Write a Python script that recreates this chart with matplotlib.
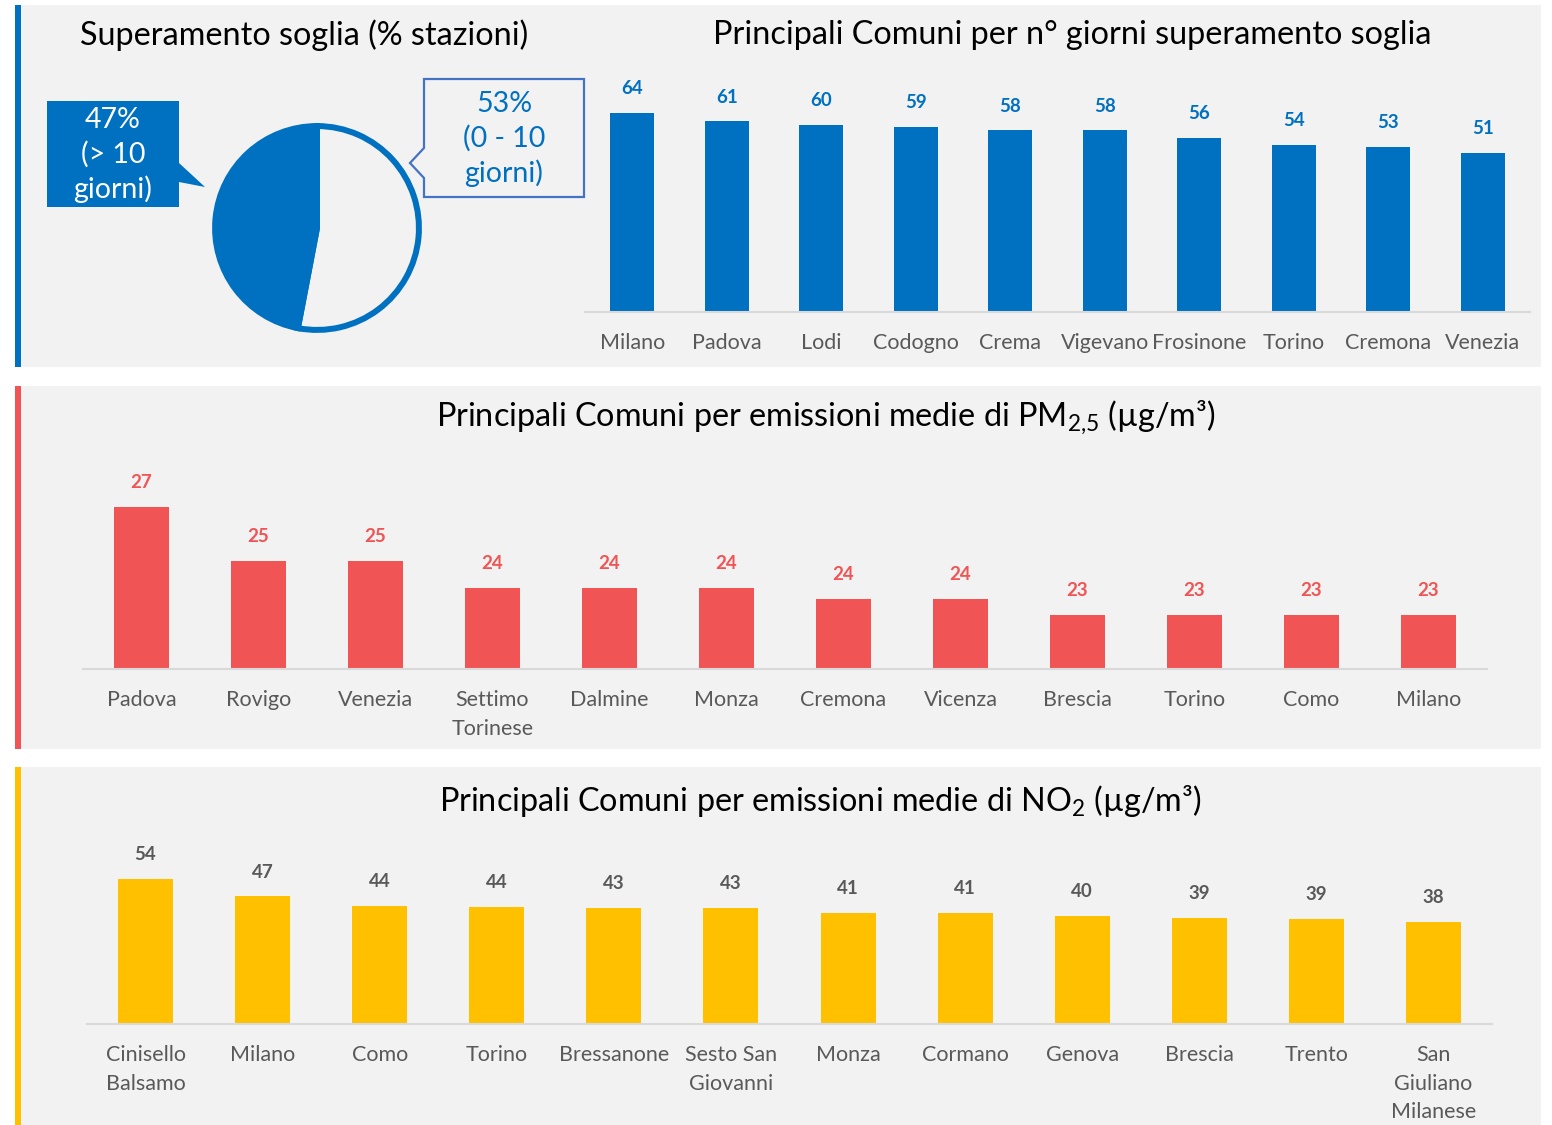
import matplotlib.pyplot as plt
from matplotlib.patches import Rectangle, Polygon

plt.rcParams['font.family'] = ['Lato', 'DejaVu Sans']
plt.rcParams['mathtext.fontset'] = 'custom'
plt.rcParams['mathtext.rm'] = 'Lato'
plt.rcParams['mathtext.it'] = 'Lato:italic'

# superamento soglia (% stazioni)
quota_labels = ["53%\n(0 - 10\ngiorni)", "47%\n(> 10\ngiorni)"]
quota_val = [53, 47]

# n° giorni superamento soglia
giorni_comuni = ["Milano", "Padova", "Lodi", "Codogno", "Crema", "Vigevano",
                 "Frosinone", "Torino", "Cremona", "Venezia"]
giorni_val = [64, 61.3, 60.1, 59.4, 58.4, 58.4, 55.9, 53.7, 53.1, 51.1]

# PM2,5
pm25_comuni = ["Padova", "Rovigo", "Venezia", "Settimo\nTorinese", "Dalmine", "Monza",
               "Cremona", "Vicenza", "Brescia", "Torino", "Como", "Milano"]
pm25_val = [27, 25, 25, 24, 24, 24, 23.6, 23.6, 23, 23, 23, 23]

# NO2
no2_comuni = ["Cinisello\nBalsamo", "Milano", "Como", "Torino", "Bressanone", "Sesto San\nGiovanni",
              "Monza", "Cormano", "Genova", "Brescia", "Trento", "San\nGiuliano\nMilanese"]
no2_val = [54, 47.4, 44, 43.6, 43.1, 43.1, 41.3, 41.3, 40.1, 39.4, 39, 38]

BLUE = '#0070C0'
RED = '#F05454'
YELLOW = '#FFC000'
BG = '#F2F2F2'
W, H = 1552, 1125

fig = plt.figure(figsize=(W / 100, H / 100), dpi=100)
fig.patch.set_facecolor('white')


def px_axes(x0, y0, x1, y1):
    # pixel box (top-left origin) -> figure axes
    return fig.add_axes([x0 / W, 1 - y1 / H, (x1 - x0) / W, (y1 - y0) / H])


# background panels and callouts
bg = fig.add_axes([0, 0, 1, 1], zorder=0)
bg.set_xlim(0, W)
bg.set_ylim(H, 0)
bg.axis('off')
for (y0, y1, c) in [(5, 367, BLUE), (386, 749, RED), (767, 1125, YELLOW)]:
    bg.add_patch(Rectangle((15, y0), 1541 - 15, y1 - y0, color=BG, lw=0))
    bg.add_patch(Rectangle((15, y0), 6, y1 - y0, color=c, lw=0))

bg.add_patch(Polygon([(47, 101), (179, 101), (179, 163), (205, 187), (179, 182),
                      (179, 207), (47, 207)], closed=True, color=BLUE, lw=0))
bg.add_patch(Polygon([(424, 79), (584, 79), (584, 197), (424, 197), (424, 178),
                      (410, 163), (424, 148)], closed=True, facecolor=BG,
                     edgecolor='#4472C4', lw=1.6))
bg.text(113, 155, quota_labels[1], color='white', fontsize=20.5, ha='center', va='center',
        linespacing=1.35)
bg.text(504, 139, quota_labels[0], color=BLUE, fontsize=20.5, ha='center', va='center',
        linespacing=1.35)

TS = 23.3
bg.text(304, 35, "Superamento soglia (% stazioni)", fontsize=TS, ha='center', va='center')
bg.text(1072, 35, "Principali Comuni per n° giorni superamento soglia", fontsize=TS,
        ha='center', va='center')
bg.text(826, 417, r"Principali Comuni per emissioni medie di PM$_{\mathregular{2{,}5}}$ (µg/m³)",
        fontsize=TS, ha='center', va='center')
bg.text(820, 801, r"Principali Comuni per emissioni medie di NO$_{\mathregular{2}}$ (µg/m³)",
        fontsize=TS, ha='center', va='center')

# pie
pax = px_axes(202, 113, 432, 343)
pax.pie(quota_val, colors=[BG, BLUE], startangle=90, counterclock=False, radius=0.975,
        wedgeprops=dict(edgecolor=BLUE, linewidth=4.3))
pax.set_xlim(-1.1, 1.1)
pax.set_ylim(-1.1, 1.1)
pax.set_aspect('equal')


def bar_panel(box, names, vals, color, ymin, ymax, label_color):
    ax = px_axes(*box)
    ax.set_facecolor('none')
    x = range(len(names))
    ax.bar(x, [v - ymin for v in vals], bottom=ymin, width=0.47, color=color)
    for xi, v in zip(x, vals):
        ax.annotate(f"{v:.0f}", (xi, v), xytext=(0, 17.5), textcoords='offset points',
                    ha='center', va='center', fontsize=13.5, fontweight='bold',
                    color=label_color)
    ax.set_xlim(-0.5, len(names) - 0.5)
    ax.set_ylim(ymin, ymax)
    ax.set_xticks(list(x))
    ax.set_xticklabels(names, fontsize=15.5, color='#595959', linespacing=1.55)
    ax.tick_params(axis='x', length=0, pad=15)
    ax.set_yticks([])
    for s in ['top', 'right', 'left']:
        ax.spines[s].set_visible(False)
    ax.spines['bottom'].set_color('#D9D9D9')
    ax.spines['bottom'].set_linewidth(1.5)
    return ax


# blue: baseline 312, 3.11 px per unit
bar_panel((585, 60, 1530, 312), giorni_comuni, giorni_val, BLUE, 0, 252 / 3.11, BLUE)
# red: baseline 669, 27 px per unit from 21
bar_panel((83, 460, 1487, 669), pm25_comuni, pm25_val, RED, 21, 21 + 209 / 27, RED)
# yellow: baseline 1024, 2.69 px per unit
bar_panel((87, 840, 1492, 1024), no2_comuni, no2_val, YELLOW, 0, 184 / 2.69, '#595959')

plt.savefig("out.png", dpi=100)
